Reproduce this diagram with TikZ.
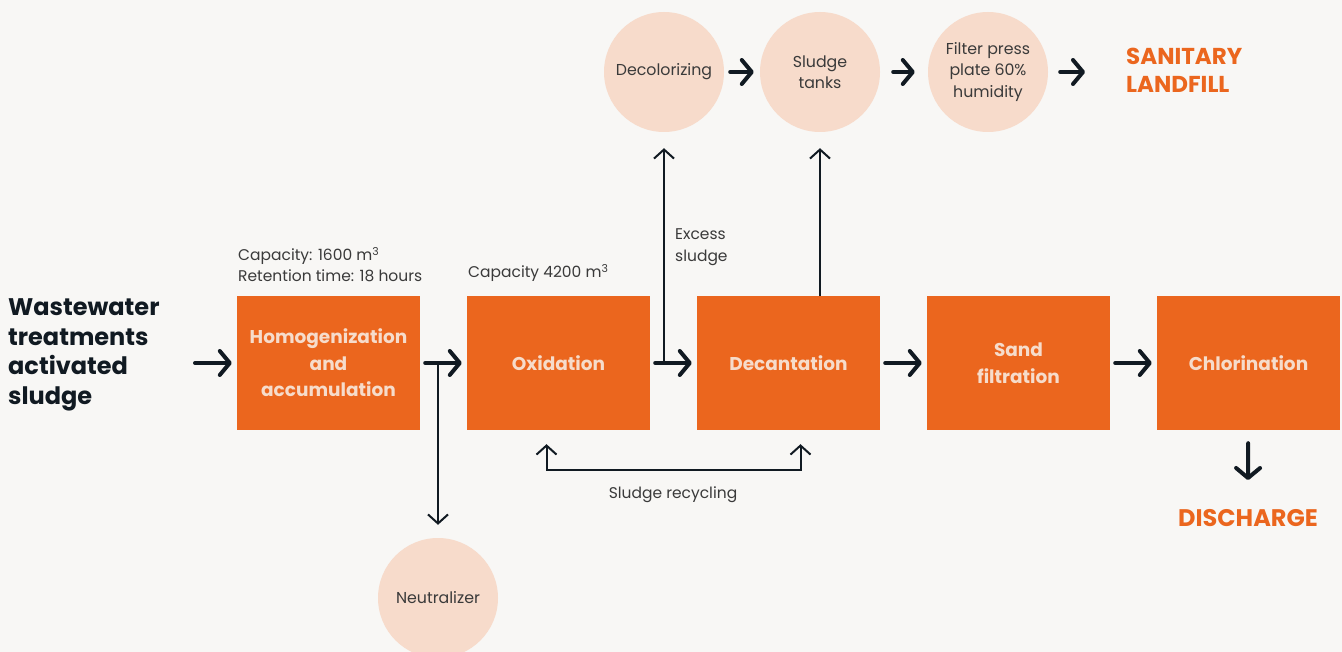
\documentclass[tikz,border=0pt]{standalone}
\usepackage{fontspec}
\setmainfont{Poppins}
\usetikzlibrary{arrows.meta,positioning}
\definecolor{procorange}{HTML}{EB661E}
\definecolor{peach}{HTML}{F7DBCB}
\definecolor{paper}{HTML}{F8F7F5}
\definecolor{ink}{HTML}{111A22}
\definecolor{boxtext}{HTML}{F6DCCB}
\definecolor{labelgray}{HTML}{3A3A3A}

\begin{document}
\begin{tikzpicture}[x=1pt,y=-1pt,node distance=230pt,
  process/.style={rectangle,fill=procorange,minimum width=183pt,minimum height=134pt,inner sep=0pt,text=boxtext,align=center,font=\fontsize{18.5}{26.5}\selectfont\bfseries},
  stage/.style={circle,fill=peach,minimum size=120pt,inner sep=0pt,align=center,text=labelgray,font=\fontsize{15.8}{21.5}\selectfont},
  flow/.style={draw=ink,line width=4pt,line cap=round,-{Straight Barb[length=10pt,width=24pt,round]}},
  thinflow/.style={draw=ink,line width=2pt,-{Straight Barb[length=9pt,width=20pt]}},
  note/.style={text=labelgray,align=left,inner sep=0pt,font=\fontsize{15.5}{20.5}\selectfont},
  outlet/.style={text=procorange,align=left,inner sep=0pt,font=\bfseries}]

  \useasboundingbox[fill=paper] (0,0) rectangle (1342,652);

  % main treatment line
  \node[process] (homog) at (328.5,363) {Homogenization\\and\\accumulation};
  \node[process] (oxid) [right of=homog] {Oxidation};
  \node[process] (decant) [right of=oxid] {Decantation};
  \node[process] (sand) [right of=decant] {Sand\\filtration};
  \node[process] (chlor) [right of=sand] {Chlorination};

  % sludge line
  \node[stage] (decolor) at (664,72) {Decolorizing};
  \node[stage] (tanks) at (820,72) {Sludge\\tanks};
  \node[stage] (press) at (988,72) {Filter press\\plate 60\%\\humidity};
  \node[stage] (neutral) at (438,598) {Neutralizer};

  \node[anchor=west,inner sep=0pt,text=ink,align=left,font=\fontsize{24}{29.5}\selectfont\bfseries] (input) at (8,355) {Wastewater\\treatments\\activated\\sludge};
  \node[outlet,anchor=west,font=\fontsize{23}{28}\selectfont\bfseries] (landfill) at (1126,70) {SANITARY\\LANDFILL};
  \node[outlet,font=\fontsize{24}{28}\selectfont\bfseries] (discharge) at (1248,518) {DISCHARGE};

  \node[note,anchor=south west] (homoginfo) at (238,282) {Capacity: 1600 m\textsuperscript{3}\\Retention time: 18 hours};
  \node[note,anchor=south west] (oxidinfo) at (468,282) {Capacity 4200 m\textsuperscript{3}};
  \node[note,anchor=west,font=\fontsize{15.5}{22}\selectfont] (excessinfo) at (675,247) {Excess\\sludge};
  \node[note] (recyclinfo) at (673,495) {Sludge recycling};

  \coordinate (feed) at (195,363);
  \coordinate (split) at (438,363);
  \coordinate (excess) at (664,363);
  \coordinate (tolandfill) at (1085,72);
  \coordinate (todischarge) at (1248,480);

  \draw[flow,shorten >=5pt] (feed) -- (homog);
  \foreach \a/\b in {homog/oxid,oxid/decant,decant/sand,sand/chlor}
    \draw[flow,shorten <=5pt,shorten >=5pt] (\a) -- (\b);
  \draw[flow,shorten <=13pt] (chlor) -- (todischarge);

  \draw[flow,shorten <=6pt,shorten >=6pt] (decolor) -- (tanks);
  \draw[flow,shorten <=13pt,shorten >=13pt] (tanks) -- (press);
  \draw[flow,shorten <=12pt] (press) -- (tolandfill);

  \draw[thinflow,shorten >=13pt] (split) -- (neutral);
  \draw[thinflow,shorten >=16pt] (excess) -- (decolor);
  \draw[thinflow,shorten >=16pt] (decant.north -| tanks) -- (tanks);
  \draw[thinflow,{Straight Barb[length=9pt,width=20pt]}-{Straight Barb[length=9pt,width=20pt]},shorten <=14pt,shorten >=14pt]
    ([xshift=-12pt]oxid.south) -- ++(0,40) -| ([xshift=12pt]decant.south);

\end{tikzpicture}
\end{document}
